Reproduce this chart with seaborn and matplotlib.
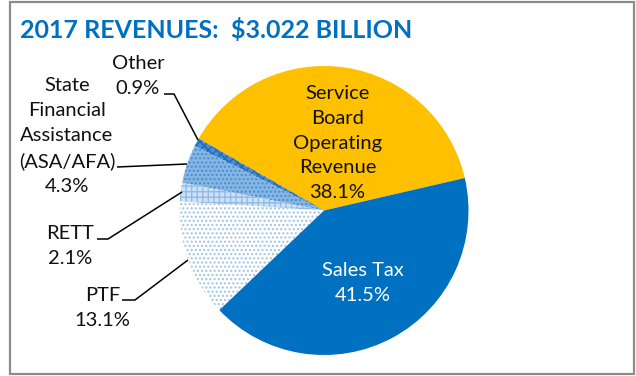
import matplotlib
matplotlib.use("Agg")
import matplotlib.pyplot as plt
from matplotlib.patches import Rectangle
import seaborn as sns

# Revenue shares (percent), in counter-clockwise drawing order
categories = ["Service Board Operating Revenue", "Other",
              "State Financial Assistance (ASA/AFA)", "RETT", "PTF", "Sales Tax"]
shares = [38.1, 0.9, 4.3, 2.1, 13.1, 41.5]
label_text = ["Service\nBoard\nOperating\nRevenue", "Other",
              "State\nFinancial\nAssistance\n(ASA/AFA)", "RETT", "PTF", "Sales Tax"]
title_text = "2017 REVENUES:  $3.022 BILLION"

sns.set_theme(style="white")
plt.rcParams["font.family"] = ["Lato", "DejaVu Sans"]
plt.rcParams["hatch.linewidth"] = 1.0

W, H = 636, 376
fig = plt.figure(figsize=(W / 100, H / 100), dpi=100)
ax = fig.add_axes([0, 0, 1, 1])


def Y(y):
    # layout helper: distance from top edge -> axes y
    return H - y


face = ["#FFC000", "#4a8ccf", "#86b6e4", "#cfe2f5", "#ffffff", "#0070C0"]
hatch_col = ["#FFC000", "#1f6bb8", "#4a8ccf", "#8fbbe6", "#9dc3e6", "#0070C0"]
hatches = [None, "xxxx", "....", "+++", "....", None]

wedges, _ = ax.pie(shares, startangle=13, counterclock=True,
                   center=(324, Y(210.5)), radius=144.5, colors=face,
                   wedgeprops=dict(linewidth=0))
for w, hc, ht in zip(wedges, hatch_col, hatches):
    if ht:
        w.set_hatch(ht)
        w.set_edgecolor(hc)
        w.set_linewidth(0)

# pixel-based data space for the whole canvas
ax.set_xlim(0, W)
ax.set_ylim(0, H)
ax.set_aspect("equal")
ax.axis("off")

# outer frame
ax.add_patch(Rectangle((10, Y(374)), 624, 372, fill=False,
                       edgecolor="#8c8c8c", linewidth=1.6))

fs = 14.5
ls = 1.55
black = "#111111"


def lbl(i):
    return f"{label_text[i]}\n{shares[i]:.1f}%"


# labels inside the pie
ax.text(337.5, Y(143), lbl(0), ha="center", va="center", fontsize=fs,
        linespacing=ls, color=black)
ax.text(363, Y(283), lbl(5), ha="center", va="center", fontsize=fs,
        linespacing=ls, color="white")

# labels outside with leader lines
ax.text(138, Y(76), lbl(1), ha="center", va="center", fontsize=fs,
        linespacing=ls, color=black)
ax.text(67, Y(136), lbl(2), ha="center", va="center", fontsize=fs,
        linespacing=ls, color=black)
ax.text(70.5, Y(246), lbl(3), ha="center", va="center", fontsize=fs,
        linespacing=ls, color=black)
ax.text(102.5, Y(308), lbl(4), ha="center", va="center", fontsize=fs,
        linespacing=ls, color=black)

leaders = [
    [(164, 94), (174, 94), (198, 140)],
    [(117, 167), (187, 164)],
    [(97, 239), (108, 239), (182, 192)],
    [(122, 300), (135, 300), (188, 260)],
]
for pts in leaders:
    ax.plot([p[0] for p in pts], [Y(p[1]) for p in pts], color="black",
            linewidth=1.1, solid_capstyle="butt")

ax.text(20, Y(30), title_text, ha="left", va="center", fontsize=18,
        fontweight="bold", color="#0070C0")

fig.savefig("out.png", dpi=100)
